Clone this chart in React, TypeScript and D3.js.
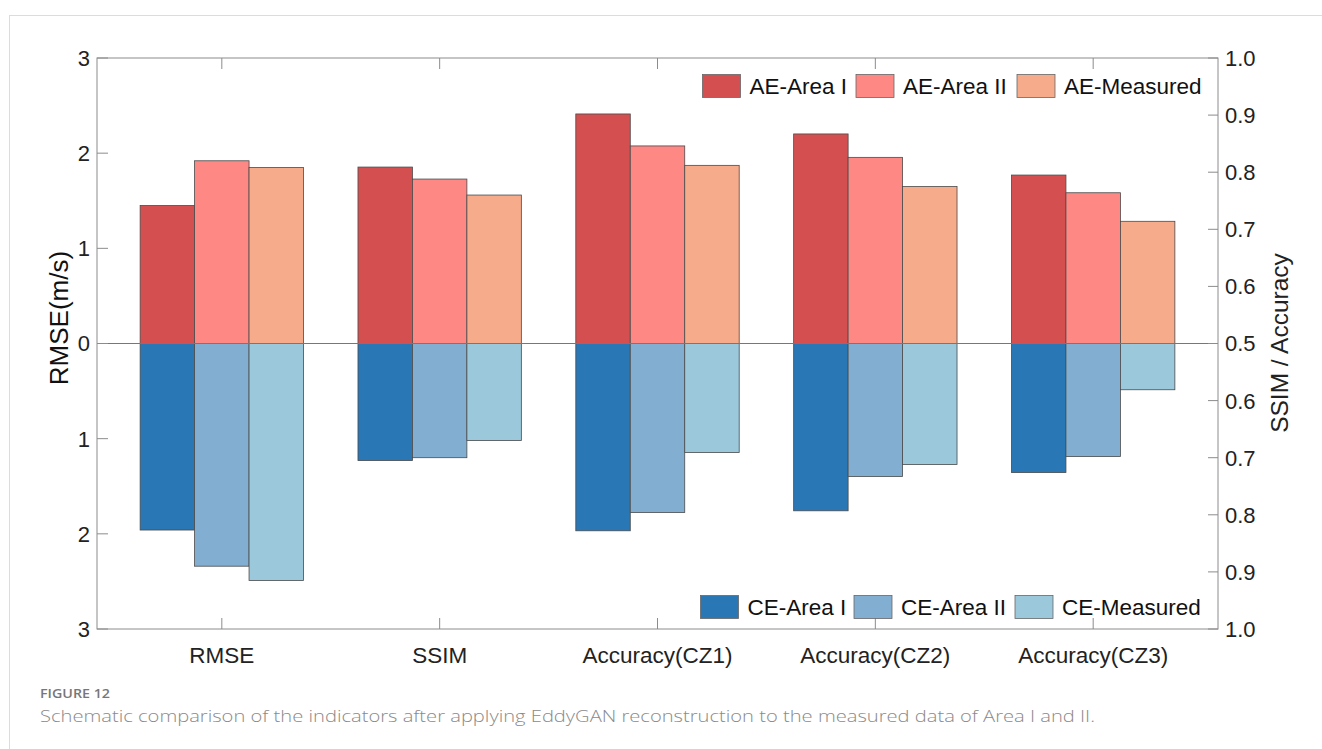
import React, { useEffect, useRef } from "react";
import * as d3 from "d3";

const categories = ["RMSE", "SSIM", "Accuracy(CZ1)", "Accuracy(CZ2)", "Accuracy(CZ3)"];
const aeSeries = ["AE-Area I", "AE-Area II", "AE-Measured"];
const ceSeries = ["CE-Area I", "CE-Area II", "CE-Measured"];
const aeColors = ["#d45050", "#fe8884", "#f6ab8a"];
const ceColors = ["#2a77b5", "#82afd1", "#9bc8db"];

// RMSE in m/s, the rest in SSIM / accuracy units
const aeValues = [
  [1.45, 1.92, 1.85],
  [0.809, 0.788, 0.76],
  [0.902, 0.846, 0.812],
  [0.867, 0.826, 0.775],
  [0.795, 0.764, 0.714],
];
const ceValues = [
  [1.96, 2.34, 2.49],
  [0.705, 0.7, 0.67],
  [0.828, 0.796, 0.691],
  [0.793, 0.733, 0.712],
  [0.726, 0.698, 0.581],
];

const leftTicks = [3, 2, 1, 0, -1, -2, -3];
const rightTicks = [1.0, 0.9, 0.8, 0.7, 0.6, 0.5, 0.6, 0.7, 0.8, 0.9, 1.0];

const W = 1322;
const H = 749;
const FONT = "'Liberation Sans', Arial, Helvetica, sans-serif";

export default function App() {
  const svgRef = useRef<SVGSVGElement>(null);

  useEffect(() => {
    const svg = d3.select(svgRef.current);
    svg.selectAll("*").remove();

    const left = 97, right = 1218, top = 58, bottom = 629;
    const x = d3.scaleLinear().domain([0.427, 5.573]).range([left, right]);
    const y = d3.scaleLinear().domain([-3, 3]).range([bottom, top]);
    // right axis: 0.5 at zero, 1.0 at both ends (mirrored)
    const yr = d3.scaleLinear().domain([0.5, 1.0]).range([0, 3]);
    const toUnits = (ci: number, v: number) => (ci === 0 ? v : yr(v));

    const groupW = x(1.75) - x(1);
    const barW = groupW / 3;

    // card border
    svg.append("rect").attr("x", 9.5).attr("y", 15.5).attr("width", W).attr("height", H)
      .attr("fill", "none").attr("stroke", "#dcdcdc");

    const g = svg.append("g");

    // bars
    categories.forEach((c, ci) => {
      const cx = x(ci + 1);
      aeValues[ci].forEach((v, si) => {
        const u = toUnits(ci, v);
        g.append("rect")
          .attr("x", cx - groupW / 2 + si * barW)
          .attr("width", barW)
          .attr("y", y(u))
          .attr("height", y(0) - y(u))
          .attr("fill", aeColors[si])
          .attr("stroke", "#4a4a4a").attr("stroke-width", 0.8);
      });
      ceValues[ci].forEach((v, si) => {
        const u = toUnits(ci, v);
        g.append("rect")
          .attr("x", cx - groupW / 2 + si * barW)
          .attr("width", barW)
          .attr("y", y(0))
          .attr("height", y(-u) - y(0))
          .attr("fill", ceColors[si])
          .attr("stroke", "#4a4a4a").attr("stroke-width", 0.8);
      });
    });

    // zero line
    g.append("line").attr("x1", left).attr("x2", right).attr("y1", y(0)).attr("y2", y(0))
      .attr("stroke", "#777").attr("stroke-width", 1);

    // frame
    g.append("rect").attr("x", left).attr("y", top).attr("width", right - left).attr("height", bottom - top)
      .attr("fill", "none").attr("stroke", "#8c8c8c").attr("stroke-width", 1);

    // left ticks
    leftTicks.forEach((t) => {
      g.append("line").attr("x1", left).attr("x2", left + 11).attr("y1", y(t)).attr("y2", y(t))
        .attr("stroke", "#8c8c8c");
      g.append("text").attr("x", left - 7).attr("y", y(t)).attr("dy", "0.36em")
        .attr("text-anchor", "end").attr("font-size", 22).attr("fill", "#222")
        .attr("font-family", FONT).text(Math.abs(t));
    });

    // right ticks
    rightTicks.forEach((t, i) => {
      const u = i < 5 ? yr(t) : -yr(t);
      const yy = i === 5 ? y(0) : y(u);
      g.append("line").attr("x1", right - 10).attr("x2", right).attr("y1", yy).attr("y2", yy)
        .attr("stroke", "#8c8c8c");
      g.append("text").attr("x", right + 7).attr("y", yy).attr("dy", "0.36em")
        .attr("text-anchor", "start").attr("font-size", 22).attr("fill", "#222")
        .attr("font-family", FONT).text(t.toFixed(1));
    });

    // category ticks and labels
    categories.forEach((c, ci) => {
      const cx = x(ci + 1);
      g.append("line").attr("x1", cx).attr("x2", cx).attr("y1", top).attr("y2", top + 11).attr("stroke", "#8c8c8c");
      g.append("line").attr("x1", cx).attr("x2", cx).attr("y1", bottom).attr("y2", bottom - 11).attr("stroke", "#8c8c8c");
      g.append("text").attr("x", cx).attr("y", 663).attr("text-anchor", "middle")
        .attr("font-size", 22.5).attr("fill", "#222").attr("font-family", FONT).text(c);
    });

    // axis titles
    g.append("text").attr("transform", `translate(68,318) rotate(-90)`).attr("text-anchor", "middle")
      .attr("font-size", 26).attr("fill", "#111").attr("font-family", FONT).text("RMSE(m/s)");
    g.append("text").attr("transform", `translate(1288,343) rotate(-90)`).attr("text-anchor", "middle")
      .attr("font-size", 24.5).attr("fill", "#222").attr("font-family", FONT).text("SSIM / Accuracy");

    // legends
    const legend = (names: string[], colors: string[], ly: number, dx: number) => {
      const starts = [702.5, 856, 1017];
      names.forEach((n, i) => {
        g.append("rect").attr("x", starts[i] + dx).attr("y", ly - 11.5).attr("width", 38).attr("height", 23)
          .attr("fill", colors[i]).attr("stroke", "#666").attr("stroke-width", 0.8);
        g.append("text").attr("x", starts[i] + dx + 47).attr("y", ly).attr("dy", "0.36em")
          .attr("font-size", 22.5).attr("fill", "#111").attr("font-family", FONT).text(n);
      });
    };
    legend(aeSeries, aeColors, 86, 0);
    legend(ceSeries, ceColors, 607, -2);

    // caption
    svg.append("text").attr("x", 40).attr("y", 698).attr("font-size", 13).attr("fill", "#777")
      .attr("font-family", "'Open Sans', sans-serif").attr("font-weight", 600)
      .attr("textLength", 70).attr("lengthAdjust", "spacingAndGlyphs").text("FIGURE 12");
    svg.append("text").attr("x", 40).attr("y", 722).attr("font-size", 17).attr("fill", "#8a8a8a")
      .attr("font-family", "'Open Sans', sans-serif").attr("font-weight", 300)
      .attr("textLength", 1055).attr("lengthAdjust", "spacingAndGlyphs")
      .text("Schematic comparison of the indicators after applying EddyGAN reconstruction to the measured data of Area I and II.");
  }, []);

  return (
    <svg ref={svgRef} width={W} height={H}
      style={{ position: "absolute", left: 0, top: 0, background: "#fff" }} />
  );
}
